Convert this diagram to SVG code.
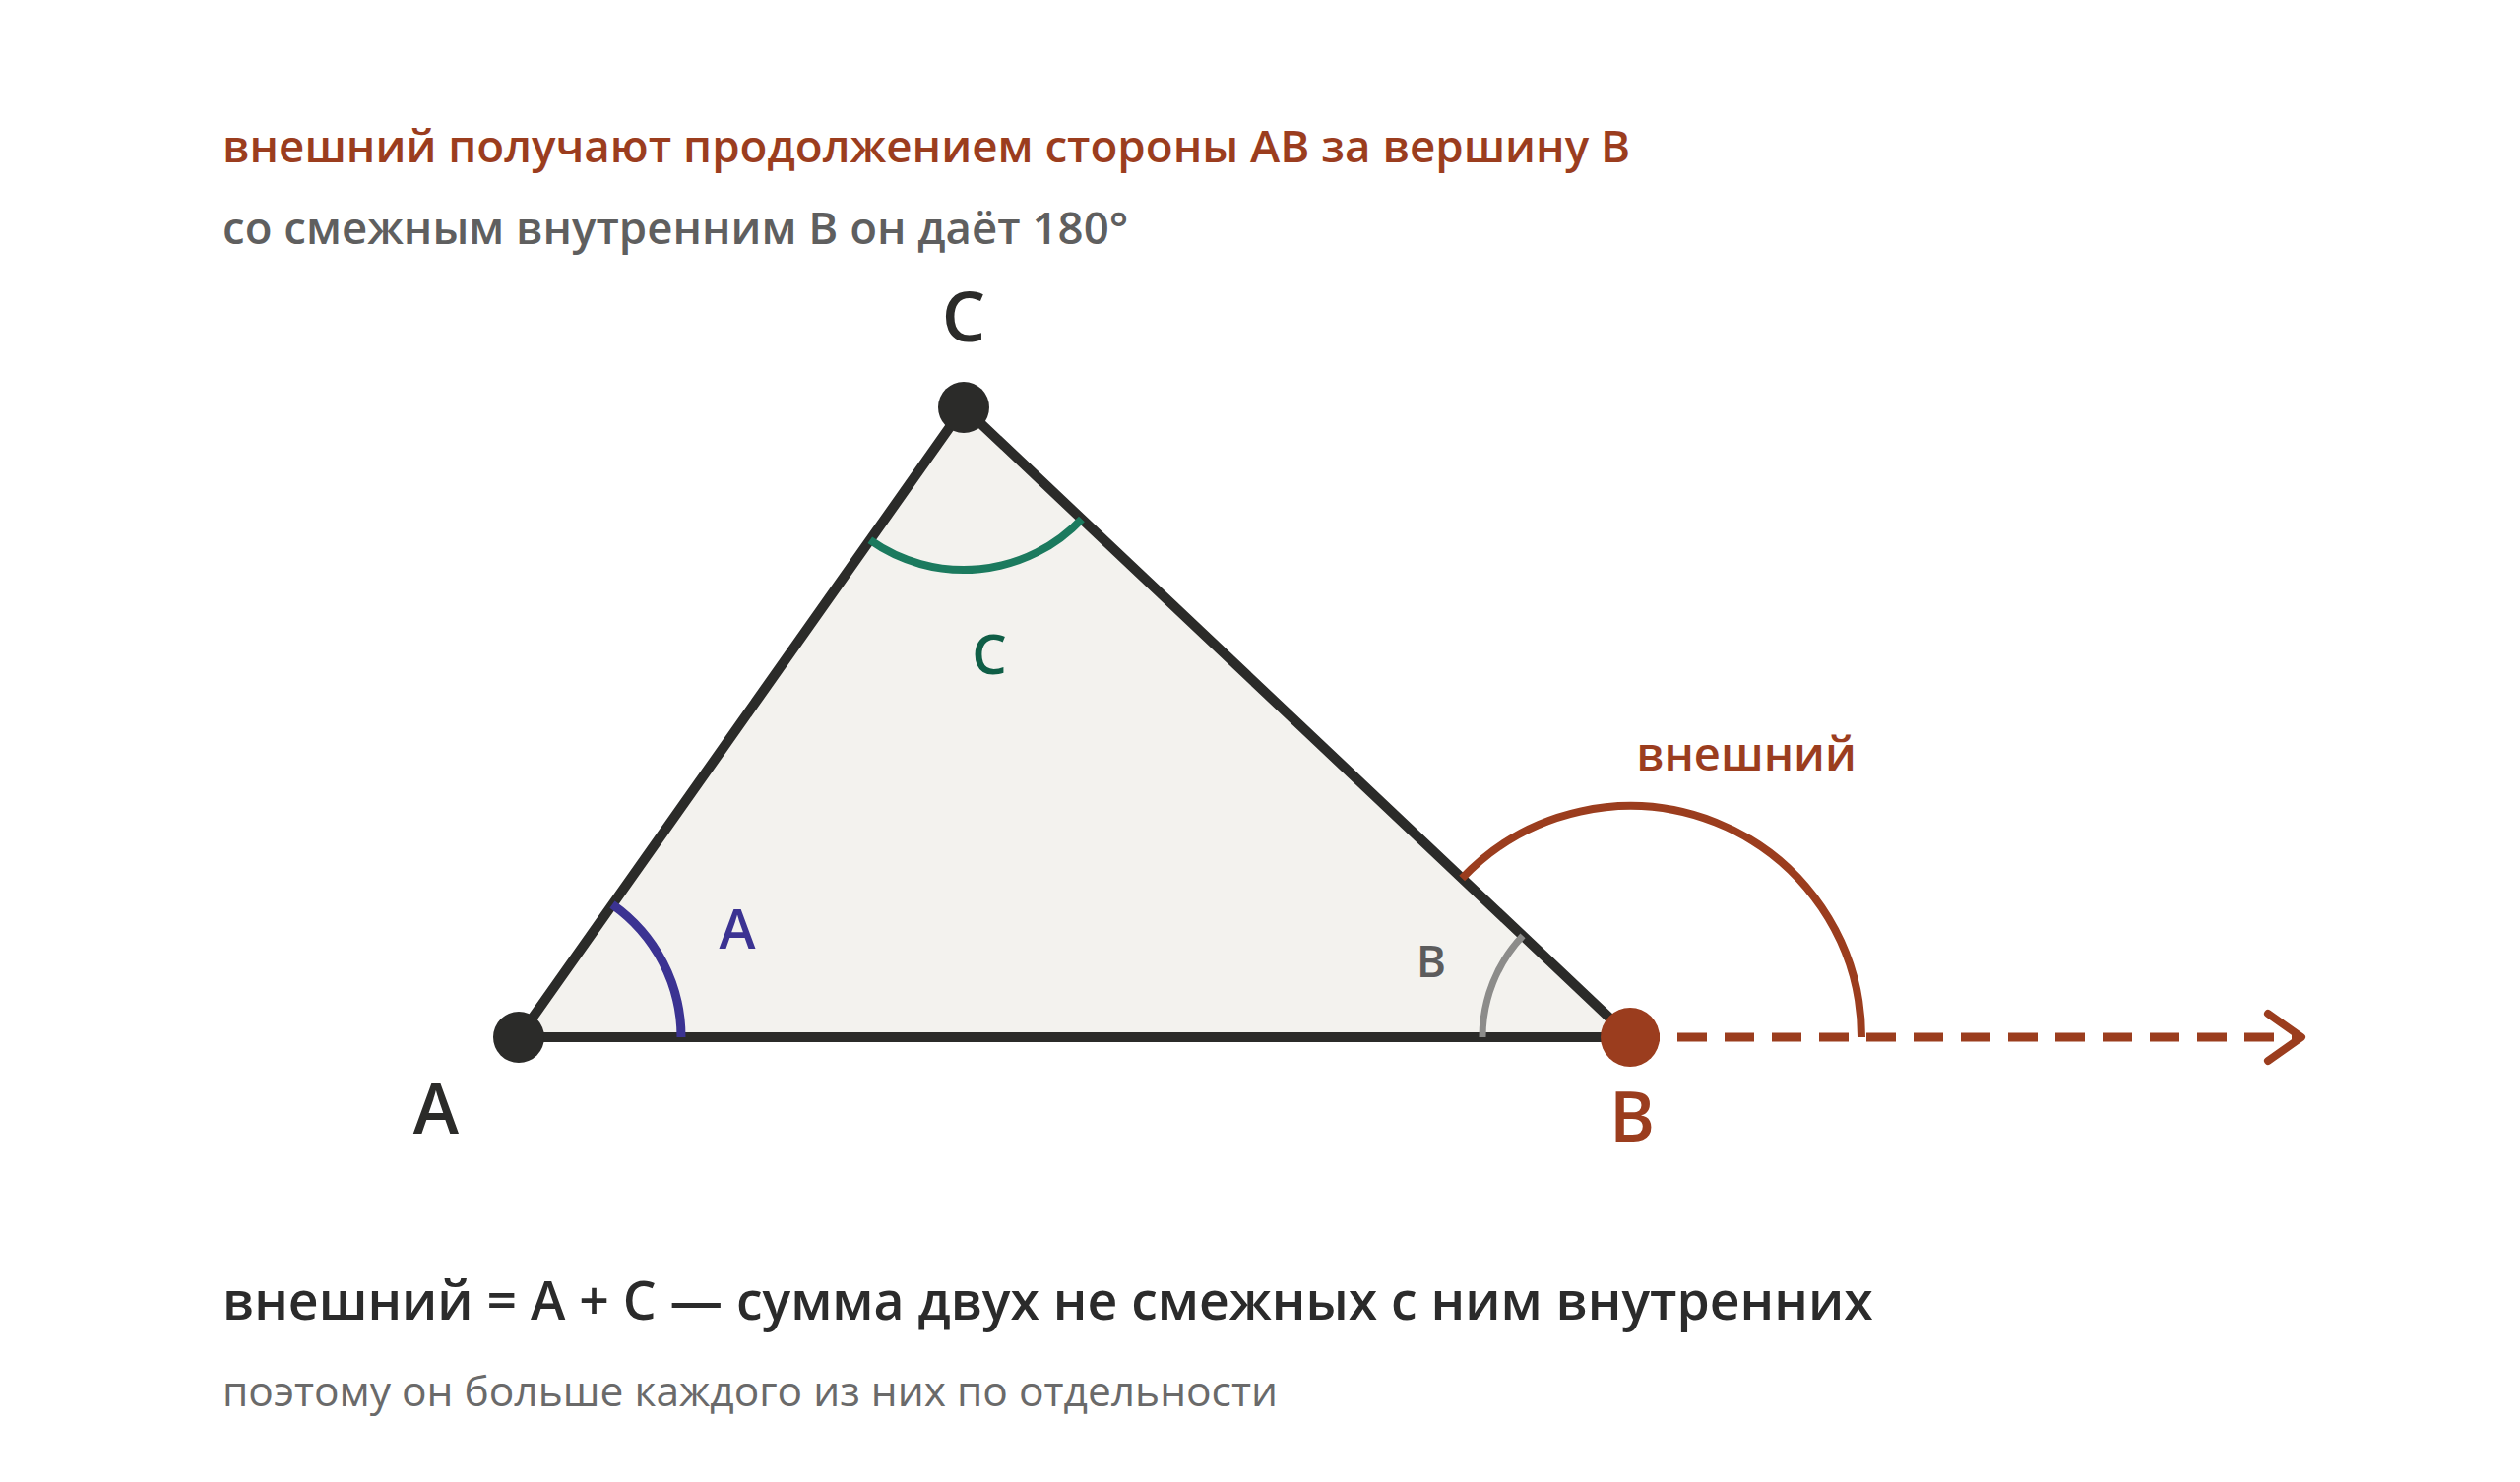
<svg xmlns="http://www.w3.org/2000/svg" width="2560" height="1506" viewBox="0 0 2560 1506">
<style>
text { font-family: "Open Sans", "Noto Sans", "DejaVu Sans", sans-serif; }
.t1 { font-size: 45.7px; font-weight: 600; fill: #9b3d1e; }
.t2 { font-size: 45.6px; font-weight: 600; fill: #5f5f5f; }
.b1 { font-size: 53.5px; font-weight: 600; fill: #2b2b2b; }
.b2 { font-size: 42.5px; font-weight: 400; fill: #6a6a6a; }
.vl { font-size: 70px; font-weight: 600; text-anchor: middle; }
.al { font-size: 56px; font-weight: 600; text-anchor: middle; }
.arc { fill: none; stroke-linecap: butt; }
</style>
<rect width="2560" height="1506" fill="#ffffff"/>
<g id="header">
<text class="t1" x="226" y="165">внешний получают продолжением стороны АВ за вершину В</text>
<text class="t2" x="226" y="248">со смежным внутренним В он даёт 180°</text>
</g>
<g id="triangle">
<polygon points="527,1054 979,414 1656,1054" fill="#f3f2ee" stroke="#2b2b29" stroke-width="10" stroke-linejoin="round"/>
</g>
<g id="angle-A">
<path class="arc" d="M 692 1054 A 165 165 0 0 0 622 919.1" stroke="#3b3392" stroke-width="9"/>
<text class="al" x="749" y="964" fill="#3b3392">A</text>
</g>
<g id="angle-C">
<path class="arc" d="M 883.8 548.8 A 165 165 0 0 0 1098.9 527.4" stroke="#1b7a5e" stroke-width="8"/>
<text class="al" x="1005" y="685" fill="#0f5e46">C</text>
</g>
<g id="angle-B">
<path class="arc" d="M 1506 1054 A 150 150 0 0 1 1547 950.9" stroke="#8c8c8a" stroke-width="7"/>
<text x="1454" y="993" font-size="46" font-weight="600" text-anchor="middle" fill="#5c5c5c">B</text>
</g>
<g id="connectors">
<line x1="1656" y1="1054" x2="2334" y2="1054" stroke="#9b3d1e" stroke-width="9" stroke-dasharray="30 18"/>
<polyline points="2304,1030 2338,1054 2304,1078" fill="none" stroke="#9b3d1e" stroke-width="8" stroke-linecap="round" stroke-linejoin="round"/>
</g>
<g id="exterior-angle">
<path class="arc" d="M 1485.2 892.6 A 235 235 0 0 1 1891 1054" stroke="#9b3d1e" stroke-width="8"/>
<text x="1774" y="783" font-size="47" font-weight="600" text-anchor="middle" fill="#9b3d1e">внешний</text>
</g>
<g id="vertex-A">
<circle cx="527" cy="1054" r="26" fill="#2b2b29"/>
<text class="vl" x="443" y="1152" fill="#2b2b29">A</text>
</g>
<g id="vertex-C">
<circle cx="979" cy="414" r="26" fill="#2b2b29"/>
<text class="vl" x="979" y="347" fill="#2b2b29">C</text>
</g>
<g id="vertex-B">
<circle cx="1656" cy="1054" r="30" fill="#9b3d1e"/>
<text class="vl" x="1658" y="1160" fill="#9b3d1e">B</text>
</g>
<g id="footer">
<text class="b1" x="226" y="1341">внешний = A + C — сумма двух не смежных с ним внутренних</text>
<text class="b2" x="226" y="1429">поэтому он больше каждого из них по отдельности</text>
</g>
</svg>
